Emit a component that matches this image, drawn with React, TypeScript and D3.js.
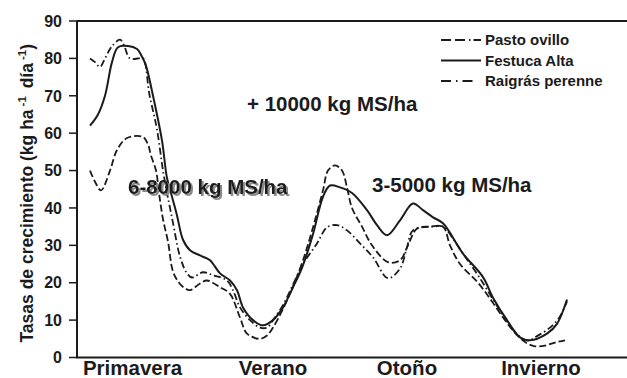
import React from 'react';
import * as d3 from 'd3';

// x is in weeks counted from the start of the spring, y in kg ha-1 dia-1
const seasons = ['Primavera', 'Verano', 'Otoño', 'Invierno'];
const seasonWeeks = [5.55, 19.6, 33.0, 46.4];
const yTicks = [0, 10, 20, 30, 40, 50, 60, 70, 80, 90];

const festucaAlta: [number, number][] = [
  [1.3, 62], [2.1, 65], [2.8, 70], [3.5, 79], [4.1, 83], [5.1, 83.3], [6.0, 82.5],
  [6.4, 81], [6.9, 78], [7.6, 70], [8.5, 58], [9.0, 48], [9.5, 43], [10.0, 38],
  [10.6, 31.5], [11.3, 28.7], [12.3, 27.3], [13.3, 26], [14.3, 22.5], [15.3, 20.6],
  [16.0, 18], [16.6, 13.4], [17.6, 10], [18.6, 8.6], [19.6, 10], [20.6, 13.4],
  [21.6, 18.8], [22.5, 24], [23.6, 33], [24.6, 43], [25.3, 46], [26.3, 45.5],
  [27.5, 44], [29.0, 39.4], [30.0, 35.4], [31.0, 32.7], [32.3, 36.7], [33.6, 41.2],
  [34.6, 39.4], [35.6, 37.5], [36.6, 35.9], [38.6, 27.8], [40.6, 21.5], [41.6, 16],
  [43.0, 10], [44.3, 5.4], [45.3, 4.6], [47.0, 6.4], [48.0, 9], [49.0, 15.5],
];

const pastoOvillo: [number, number][] = [
  [1.3, 50], [1.8, 47], [2.4, 44.7], [3.3, 50], [4.0, 55.5], [5.0, 58.7], [6.6, 59],
  [7.1, 57], [7.4, 54], [7.9, 50], [8.2, 44], [8.6, 37], [9.1, 31], [9.6, 23],
  [10.2, 20], [10.8, 18.5], [11.3, 18], [12.3, 19.8], [13.0, 20.6], [14.3, 18.8],
  [15.3, 17], [16.3, 10.7], [17.0, 6.4], [18.3, 5], [19.0, 5.9], [19.6, 8],
  [20.6, 13], [21.6, 19], [22.6, 26], [23.6, 34.8], [24.6, 44.7], [25.1, 50],
  [25.8, 51.4], [26.5, 50], [27.0, 45.5], [27.5, 40], [28.5, 35], [29.5, 30],
  [31.1, 25.5], [32.3, 26], [33.1, 30], [34.0, 34.5], [35.3, 35], [36.6, 35],
  [37.3, 30], [38.3, 25], [40.1, 20], [41.5, 15], [42.8, 10], [44.0, 6], [45.0, 3.8],
  [45.8, 3], [46.8, 3.2], [47.8, 4], [48.8, 4.6],
];

const raigrasPerenne: [number, number][] = [
  [1.3, 80], [1.8, 79], [2.3, 77.7], [2.8, 80], [3.3, 82.5], [3.6, 83.6], [4.3, 85],
  [4.7, 83.5], [5.3, 80], [6.6, 80], [6.8, 79], [7.2, 71], [7.6, 66], [8.0, 61],
  [8.6, 50], [9.0, 44], [9.3, 40], [9.6, 36], [10.3, 27], [11.0, 22.5], [11.5, 21.4],
  [12.6, 22.8], [13.6, 22], [15.0, 20.6], [15.6, 18], [16.3, 13.4], [17.3, 10],
  [18.3, 8], [19.0, 8], [19.6, 10], [20.6, 14], [21.6, 19.5], [22.6, 25], [24.0, 30.5],
  [25.0, 34.8], [26.0, 35.4], [27.0, 34], [28.3, 30.5], [29.6, 26.8], [31.1, 21.2],
  [32.3, 23.8], [33.0, 29.5], [33.6, 34], [35.6, 35], [36.6, 35], [37.8, 31],
  [38.8, 27], [40.1, 22], [41.5, 16], [42.9, 10], [44.1, 6], [45.1, 4.5], [45.8, 5.4],
  [47.3, 8], [48.3, 11], [49.0, 15],
];

const seriesNames = ['Pasto ovillo', 'Festuca Alta', 'Raigrás perenne'];
const seriesData = [pastoOvillo, festucaAlta, raigrasPerenne];
const seriesDash = ['7,3', 'none', '7,3,1.5,3'];

const annotations = ['+ 10000 kg MS/ha', '6-8000 kg MS/ha', '3-5000 kg MS/ha'];
const annotationPos: [number, number][] = [[17.0, 65.9], [5.1, 43.7], [29.5, 44.3]];

const FONT = '"Liberation Sans", Arial, Helvetica, sans-serif';
const INK = '#1b1b1b';

export default function App() {
  const W = 627;
  const H = 378;
  const left = 77;
  const top = 21;
  const bottom = 357.5;

  const x = d3.scaleLinear().domain([0, 55]).range([left, W]);
  const y = d3.scaleLinear().domain([0, 90]).range([bottom, top]);

  const line = d3
    .line<[number, number]>()
    .x(d => x(d[0]))
    .y(d => y(d[1]))
    .curve(d3.curveCatmullRom.alpha(0.5));

  return (
    <svg
      width={W}
      height={H}
      style={{ position: 'absolute', left: 0, top: 0, background: '#fff' }}
      fontFamily={FONT}
      fontWeight="bold"
    >
      <defs>
        <filter id="shadow" x="-5%" y="-20%" width="115%" height="150%">
          <feDropShadow dx={2} dy={2} stdDeviation={0.6} floodColor="#8a8a8a" floodOpacity={1} />
        </filter>
      </defs>

      {/* growth curves */}
      {seriesData.map((d, i) => (
        <path
          key={i}
          d={line(d) || ''}
          fill="none"
          stroke={INK}
          strokeWidth={i === 1 ? 2 : 1.8}
          strokeDasharray={seriesDash[i]}
        />
      ))}

      {/* frame: left axis, top line, base line */}
      <line x1={left} x2={left} y1={top} y2={bottom} stroke={INK} strokeWidth={2} />
      <line x1={left} x2={W} y1={top} y2={top} stroke={INK} strokeWidth={2} />
      <line x1={left - 1} x2={W} y1={bottom} y2={bottom} stroke={INK} strokeWidth={2} />

      {yTicks.map(t => (
        <g key={t} transform={'translate(0,' + y(t) + ')'}>
          <line x1={left - 8} x2={left} stroke={INK} strokeWidth={1.5} />
          <text x={62} dy="0.36em" textAnchor="end" fontSize={16} fill={INK}>
            {t}
          </text>
        </g>
      ))}

      {seasons.map((s, i) => (
        <text key={s} x={x(seasonWeeks[i])} y={375} textAnchor="middle" fontSize={20.5} fill={INK}>
          {s}
        </text>
      ))}

      {/* y title */}
      <text
        transform={'translate(33,' + ((top + bottom) / 2 + 4) + ') rotate(-90)'}
        textAnchor="middle"
        fontSize={17.5}
        fill={INK}
      >
        Tasas de crecimiento (kg ha
        <tspan dx={3} dy={-7} fontSize={11.5}>-1</tspan>
        <tspan dx={3} dy={7}> día</tspan>
        <tspan dx={3} dy={-7} fontSize={11.5}>-1</tspan>
        <tspan dy={7}>)</tspan>
      </text>

      {/* annotations */}
      {annotations.map((a, i) => (
        <text
          key={a}
          x={x(annotationPos[i][0])}
          y={y(annotationPos[i][1])}
          fontSize={20.5}
          fill={INK}
          filter={i === 1 ? 'url(#shadow)' : undefined}
        >
          {a}
        </text>
      ))}

      {/* legend */}
      {seriesNames.map((n, i) => (
        <g key={n} transform={'translate(441,' + (40 + i * 20.5) + ')'}>
          <line x1={0} x2={40} stroke={INK} strokeWidth={1.8} strokeDasharray={i === 1 ? 'none' : i === 0 ? '10,4,10,4,1.5,3' : '10,5,1.5,5,10'} />
          <text x={44} dy="0.36em" fontSize={15} fill={INK}>
            {n}
          </text>
        </g>
      ))}
    </svg>
  );
}
